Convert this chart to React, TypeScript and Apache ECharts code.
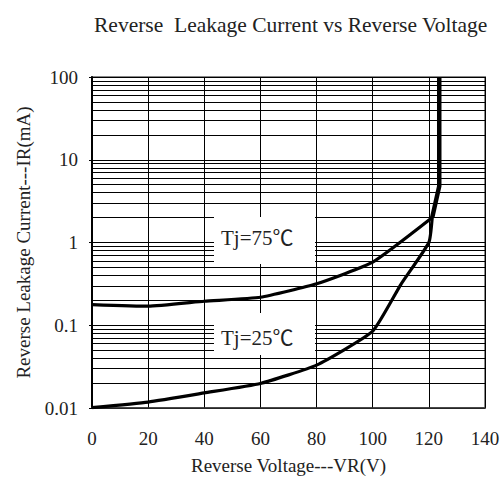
import React, { useEffect, useRef } from "react";
import * as echarts from "echarts";

const titleText = "Reverse  Leakage Current vs Reverse Voltage";
const xAxisName = "Reverse Voltage---VR(V)";
const yAxisName = "Reverse Leakage Current---IR(mA)";

const voltage75 = [0, 20, 40, 60, 80, 100, 121.2];
const current75 = [0.178, 0.17, 0.195, 0.218, 0.317, 0.578, 2.0];

const voltage25 = [0, 20, 40, 60, 80, 100, 110, 120, 121.2];
const current25 = [0.0101, 0.0118, 0.0152, 0.0198, 0.033, 0.085, 0.31, 1.0, 2.0];

const breakdownVoltage = [121.2, 123.7, 123.7];
const breakdownCurrent = [2.0, 4.8, 100];

const decades = [0.01, 0.1, 1, 10];
const minorMultipliers = [2, 3, 4, 5, 6, 7, 8, 9];

const label75 = "Tj=75℃";
const label25 = "Tj=25℃";

const FONT = "'Liberation Serif', 'DejaVu Serif', serif";
const LABEL_FONT = "'Liberation Serif', 'Noto Sans CJK TC', serif";

export default function App() {
  const ref = useRef<HTMLDivElement>(null);

  useEffect(() => {
    if (!ref.current) return;
    const chart = echarts.init(ref.current, undefined, { renderer: "svg" });

    const zip = (xs: number[], ys: number[]) => xs.map((x, i) => [x, ys[i]]);
    const minorLines: any[] = [];
    decades.forEach((d) =>
      minorMultipliers.forEach((m) => minorLines.push({ yAxis: +(d * m).toPrecision(3) }))
    );

    chart.setOption({
      animation: false,
      backgroundColor: "#fff",
      textStyle: { fontFamily: FONT },
      title: {
        text: titleText,
        left: 89,
        top: 9,
        textStyle: { fontFamily: FONT, fontSize: 21.5, fontWeight: "normal", color: "#222" },
      },
      grid: {
        left: 92,
        right: 19,
        top: 77,
        bottom: 74,
        show: true,
        borderColor: "#888",
        borderWidth: 2,
        backgroundColor: "transparent",
      },
      xAxis: {
        type: "value",
        min: 0,
        max: 140,
        interval: 20,
        name: xAxisName,
        nameLocation: "middle",
        nameGap: 48,
        nameTextStyle: { fontFamily: FONT, fontSize: 19, color: "#222" },
        axisLine: { show: true, onZero: false, lineStyle: { color: "#333", width: 1.5 } },
        axisTick: { show: false },
        axisLabel: { fontFamily: FONT, fontSize: 19, color: "#222", margin: 21 },
        splitLine: { show: true, lineStyle: { color: "#000", width: 1 } },
      },
      yAxis: {
        type: "log",
        logBase: 10,
        min: 0.01,
        max: 100,
        name: yAxisName,
        nameLocation: "middle",
        nameGap: 59,
        nameTextStyle: { fontFamily: FONT, fontSize: 19, color: "#222" },
        axisLine: { show: true, lineStyle: { color: "#000", width: 2 } },
        axisTick: { show: true, length: 3, lineStyle: { color: "#000" } },
        axisLabel: {
          fontFamily: FONT,
          fontSize: 19,
          color: "#222",
          margin: 14,
          formatter: (v: number) => String(v),
        },
        splitLine: { show: true, lineStyle: { color: "#000", width: 1 } },
      },
      series: [
        {
          type: "line",
          name: "grid",
          data: [],
          silent: true,
          markLine: {
            silent: true,
            symbol: ["none", "none"],
            label: { show: false },
            lineStyle: { color: "#000", width: 1, type: "solid" },
            data: minorLines,
            z: 1,
          },
        },
        {
          type: "line",
          name: "Tj=75",
          data: zip(voltage75, current75),
          showSymbol: false,
          symbol: "none",
          smooth: 0.15,
          lineStyle: { color: "#000", width: 3.2 },
          z: 5,
        },
        {
          type: "line",
          name: "Tj=25",
          data: zip(voltage25, current25),
          showSymbol: false,
          symbol: "none",
          smooth: 0.15,
          lineStyle: { color: "#000", width: 3.2 },
          z: 5,
        },
        {
          type: "line",
          name: "breakdown",
          data: zip(breakdownVoltage, breakdownCurrent),
          showSymbol: false,
          symbol: "none",
          clip: false,
          lineStyle: { color: "#000", width: 4.5 },
          z: 5,
        },
      ],
      graphic: [
        {
          type: "rect",
          shape: { x: 214, y: 217, width: 101, height: 47 },
          style: { fill: "#fff" },
          z: 10,
        },
        {
          type: "text",
          x: 221,
          y: 238,
          style: {
            text: label75,
            fontFamily: LABEL_FONT,
            fontSize: 21,
            fill: "#222",
            textVerticalAlign: "middle",
            verticalAlign: "middle",
          },
          z: 11,
        },
        {
          type: "rect",
          shape: { x: 214, y: 313, width: 101, height: 42 },
          style: { fill: "#fff" },
          z: 10,
        },
        {
          type: "text",
          x: 221,
          y: 338,
          style: {
            text: label25,
            fontFamily: LABEL_FONT,
            fontSize: 21,
            fill: "#222",
            textVerticalAlign: "middle",
            verticalAlign: "middle",
          },
          z: 11,
        },
      ],
    });

    return () => chart.dispose();
  }, []);

  return <div ref={ref} style={{ width: 504, height: 482, position: "fixed", left: 0, top: 0 }} />;
}
